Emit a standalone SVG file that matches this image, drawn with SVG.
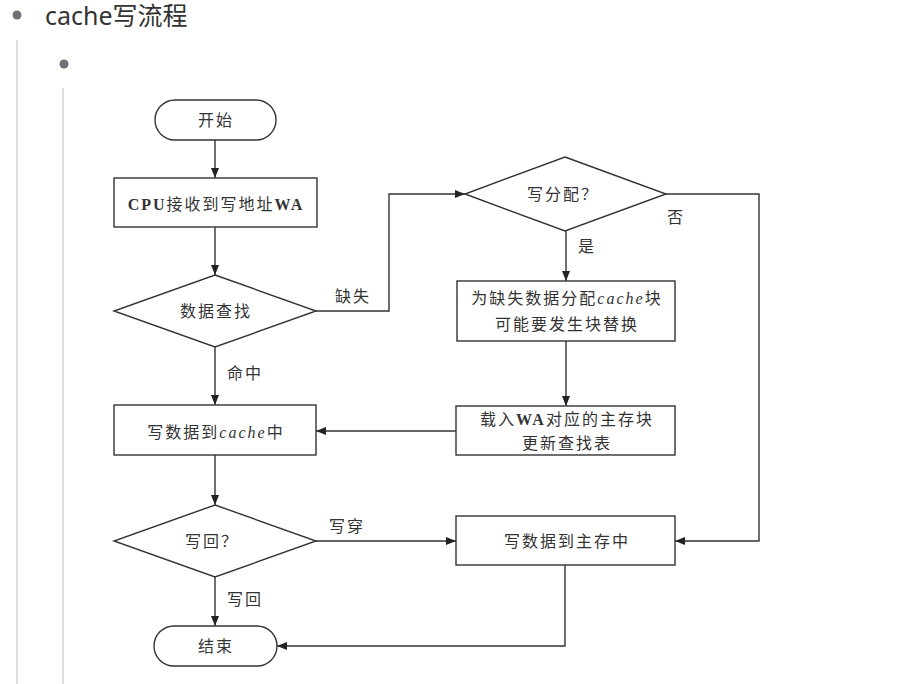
<svg xmlns="http://www.w3.org/2000/svg" width="908" height="684" viewBox="0 0 908 684">
<style>
.shape{fill:#fff;stroke:#333;stroke-width:1.4}
.conn{fill:none;stroke:#333;stroke-width:1.4}
.t{font-family:"Liberation Serif","Noto Sans CJK SC",serif;font-size:16px;fill:#333;letter-spacing:2px}
.c{text-anchor:middle}
.b{font-weight:bold}
.i{font-style:italic}
.hdr{font-family:"Noto Sans","Noto Sans CJK SC",sans-serif;font-size:25px;fill:#333}
</style>
<defs>
<marker id="ah" markerWidth="10" markerHeight="8" refX="10" refY="4" orient="auto" markerUnits="userSpaceOnUse">
<path d="M0,0 L10,4 L0,8 z" fill="#222"/>
</marker>
</defs>
<rect width="908" height="684" fill="#fff"/>
<g id="header">
<circle cx="17" cy="15" r="4.5" fill="#707078"/>
<text class="hdr" x="45" y="25">cache写流程</text>
<line x1="17" y1="40" x2="17" y2="684" stroke="#ddd" stroke-width="2"/>
<circle cx="64" cy="64" r="4.5" fill="#707078"/>
<line x1="63" y1="88" x2="63" y2="684" stroke="#ddd" stroke-width="2"/>
</g>
<g id="connectors">
<path class="conn" d="M215,140 V178" marker-end="url(#ah)"/>
<path class="conn" d="M215,227 V275" marker-end="url(#ah)"/>
<path class="conn" d="M215,347 V405" marker-end="url(#ah)"/>
<path class="conn" d="M215,455 V505" marker-end="url(#ah)"/>
<path class="conn" d="M215,577 V626" marker-end="url(#ah)"/>
<path class="conn" d="M316,311 H389 V194 H465" marker-end="url(#ah)"/>
<path class="conn" d="M566,231 V281" marker-end="url(#ah)"/>
<path class="conn" d="M566,341 V406" marker-end="url(#ah)"/>
<path class="conn" d="M456,431 H316" marker-end="url(#ah)"/>
<path class="conn" d="M316,541 H456" marker-end="url(#ah)"/>
<path class="conn" d="M666,194 H759 V541 H675" marker-end="url(#ah)"/>
<path class="conn" d="M565,565 V646 H277" marker-end="url(#ah)"/>
<text class="t" x="335" y="302">缺失</text>
<text class="t" x="667" y="223">否</text>
<text class="t" x="578" y="252">是</text>
<text class="t" x="227" y="379">命中</text>
<text class="t" x="329" y="532">写穿</text>
<text class="t" x="227" y="605">写回</text>
</g>
<g id="start">
<rect class="shape" x="155" y="100" width="121" height="40" rx="20"/>
<text class="t c" x="216" y="126">开始</text>
</g>
<g id="receive">
<rect class="shape" x="114" y="178" width="203" height="49"/>
<text class="t c" x="216" y="210"><tspan class="b">CPU</tspan>接收到写地址<tspan class="b">WA</tspan></text>
</g>
<g id="lookup">
<polygon class="shape" points="215,275 316,311 215,347 114,311"/>
<text class="t c" x="216" y="317">数据查找</text>
</g>
<g id="write-cache">
<rect class="shape" x="114" y="405" width="202" height="50"/>
<text class="t c" x="216" y="438">写数据到<tspan class="i">cache</tspan>中</text>
</g>
<g id="writeback">
<polygon class="shape" points="215,505 316,541 215,577 114,541"/>
<text class="t c" x="212" y="547">写回？</text>
</g>
<g id="end">
<rect class="shape" x="154" y="626" width="123" height="40" rx="20"/>
<text class="t c" x="216" y="652">结束</text>
</g>
<g id="write-allocate">
<polygon class="shape" points="565,157 666,194 565,231 465,194"/>
<text class="t c" x="563" y="200">写分配？</text>
</g>
<g id="allocate">
<rect class="shape" x="457" y="281" width="218" height="60"/>
<text class="t c" x="567" y="304">为缺失数据分配<tspan class="i">cache</tspan>块</text>
<text class="t c" x="567" y="330">可能要发生块替换</text>
</g>
<g id="load">
<rect class="shape" x="456" y="406" width="219" height="49"/>
<text class="t c" x="567" y="425">载入<tspan class="b">WA</tspan>对应的主存块</text>
<text class="t c" x="567" y="449">更新查找表</text>
</g>
<g id="write-memory">
<rect class="shape" x="456" y="516" width="219" height="49"/>
<text class="t c" x="567" y="547">写数据到主存中</text>
</g>
</svg>
